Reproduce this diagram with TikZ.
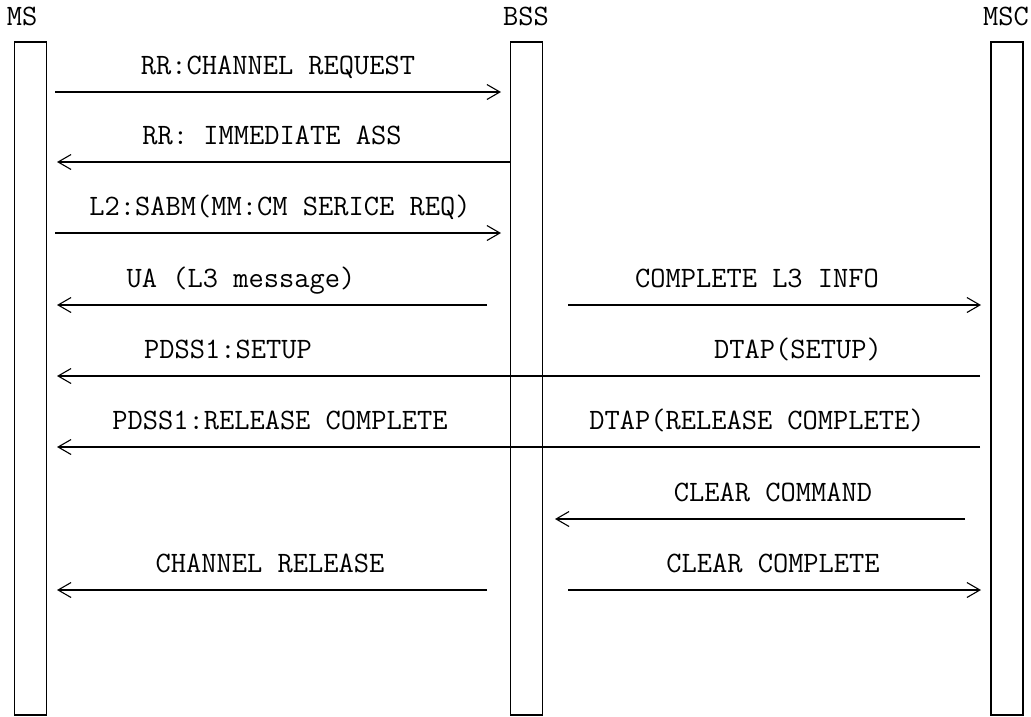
\documentclass[tikz,border=0pt]{standalone}
\usepackage{fontspec}
\usepackage{tikz}
\usetikzlibrary{positioning,calc,arrows.meta}

\begin{document}
\begin{tikzpicture}[x=1pt, y=-1pt,
    gsm box/.style={rectangle, draw, line width=1.8pt, minimum width=32pt, minimum height=673pt, inner sep=0pt},
    gsm text/.style={font=\ttfamily\fontsize{29.6}{30}\selectfont, inner sep=0pt, anchor=base},
    gsm msg/.style={line width=1.6pt, -{Straight Barb[length=13pt,width=15pt,line width=1.1pt]}}]

    \useasboundingbox (0,0) rectangle (1031,716);

    % lifelines
    \node [gsm box] (ms) at (30.5,378.5) {};
    \node [gsm box] (bss) at (526.5,378.5) {};
    \node [gsm box] (msc) at (1007,378.5) {};

    \node [gsm text] (msname) at (22,25) {MS};
    \node [gsm text] (bssname) at (526,25) {BSS};
    \node [gsm text] (mscname) at (1006,25) {MSC};

    % message end points
    \coordinate (m1s) at (55,92);   \coordinate (m1e) at (501,92);
    \coordinate (m2e) at (57,162);
    \coordinate (m3s) at (55,233);  \coordinate (m3e) at (501,233);
    \coordinate (m4s) at (487,305); \coordinate (m4e) at (57,305);
    \coordinate (n4s) at (568,305); \coordinate (n4e) at (981,305);
    \coordinate (m5s) at (980,376); \coordinate (m5e) at (57,376);
    \coordinate (m6s) at (980,447); \coordinate (m6e) at (57,447);
    \coordinate (n7s) at (965,519); \coordinate (n7e) at (555,519);
    \coordinate (m8s) at (487,590); \coordinate (m8e) at (57,590);
    \coordinate (n8s) at (568,590); \coordinate (n8e) at (981,590);

    % labels
    \node [gsm text] (l1) at (278,74.5) {RR:CHANNEL REQUEST};
    \node [gsm text] (l2) at (272,144.5) {RR: IMMEDIATE ASS};
    \node [gsm text] (l3) at (280,215.5) {L2:SABM(MM:CM SERICE REQ)};
    \node [gsm text] (l4) at (241,287.5) {UA (L3 message)};
    \node [gsm text] (k4) at (757,287.5) {COMPLETE L3 INFO};
    \node [gsm text] (l5) at (228,358.5) {PDSS1:SETUP};
    \node [gsm text] (k5) at (798,358.5) {DTAP(SETUP)};
    \node [gsm text] (l6) at (280,429.5) {PDSS1:RELEASE COMPLETE};
    \node [gsm text] (k6) at (757,429.5) {DTAP(RELEASE COMPLETE)};
    \node [gsm text] (k7) at (773,501.5) {CLEAR COMMAND};
    \node [gsm text] (l8) at (270,572.5) {CHANNEL RELEASE};
    \node [gsm text] (k8) at (773,572.5) {CLEAR COMPLETE};

    % messages
    \draw [gsm msg] (m1s) -- (m1e);
    \draw [gsm msg] (bss.west |- m2e) -- (m2e);
    \draw [gsm msg] (m3s) -- (m3e);
    \draw [gsm msg] (m4s) -- (m4e);
    \draw [gsm msg] (n4s) -- (n4e);
    \draw [gsm msg] (m5s) -- (m5e);
    \draw [gsm msg] (m6s) -- (m6e);
    \draw [gsm msg] (n7s) -- (n7e);
    \draw [gsm msg] (m8s) -- (m8e);
    \draw [gsm msg] (n8s) -- (n8e);

\end{tikzpicture}
\end{document}
